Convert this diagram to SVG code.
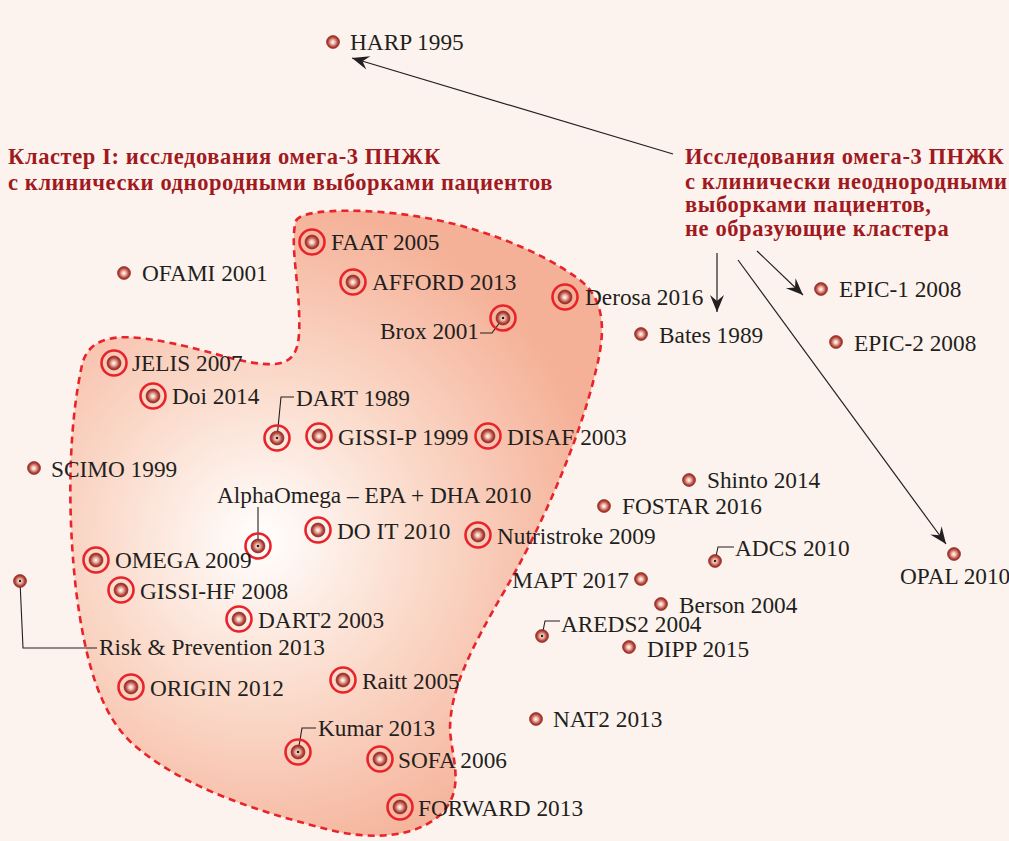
<svg xmlns="http://www.w3.org/2000/svg" width="1009" height="841" viewBox="0 0 1009 841">
<defs>
<radialGradient id="blobG" gradientUnits="userSpaceOnUse" cx="260" cy="540" r="340">
<stop offset="0" stop-color="#ffffff"/>
<stop offset="0.45" stop-color="#fbdccd"/>
<stop offset="1" stop-color="#f5b198"/>
</radialGradient>
<radialGradient id="dotG" cx="50%" cy="50%" r="50%" fx="48%" fy="52%">
<stop offset="0" stop-color="#ffffff"/>
<stop offset="0.3" stop-color="#f0c2b6"/>
<stop offset="0.75" stop-color="#b54538"/>
<stop offset="1" stop-color="#8e2620"/>
</radialGradient>
<marker id="arr" viewBox="-18 -8 20 16" refX="0" refY="0" markerWidth="20" markerHeight="16" markerUnits="userSpaceOnUse" orient="auto">
<path d="M0,0 L-17,-7 L-11,0 L-17,7 Z" fill="#231f20"/>
</marker>
<style>
.t{font-family:"Liberation Serif","Times New Roman",serif;font-size:23.3px;fill:#231f20}
.h{font-family:"Liberation Serif","Times New Roman",serif;font-size:22.5px;font-weight:bold;fill:#a0191e;letter-spacing:0.6px}
.d{fill:url(#dotG);stroke:#8a2520;stroke-width:0.6}
.r{fill:none;stroke:#e8232a;stroke-width:2.6}
.ln{fill:none;stroke:#231f20;stroke-width:1.1}
.ar{fill:none;stroke:#231f20;stroke-width:1.2}
.c{fill:#231f20}
</style>
</defs>
<rect width="1009" height="841" fill="#fdf3ee"/>
<g id="cluster">
<path d="M296,221 C300,210 350,208 400,214 C470,222 540,250 580,280 C605,300 606,330 596,370 C580,440 540,530 505,590 C470,650 450,690 450,730 C452,760 466,790 440,815 C415,838 370,840 330,830 C260,812 190,790 140,750 C100,720 85,660 76,590 C66,500 70,420 82,365 C88,340 110,335 140,338 C200,345 240,366 275,364 C300,362 300,340 299,310 C298,280 290,240 296,221 Z" fill="url(#blobG)" stroke="#e8232a" stroke-width="2.6" stroke-dasharray="7,5"/>
</g>
<g id="titles">
<text class="h" x="8" y="164">Кластер I: исследования омега-3 ПНЖК</text>
<text class="h" x="8" y="190">с клинически однородными выборками пациентов</text>
<text class="h" x="685" y="164">Исследования омега-3 ПНЖК</text>
<text class="h" x="685" y="189">с клинически неоднородными</text>
<text class="h" x="685" y="212">выборками пациентов,</text>
<text class="h" x="685" y="236">не образующие кластера</text>
</g>
<g id="connectors">
<line class="ar" x1="673" y1="154" x2="352" y2="58" marker-end="url(#arr)"/>
<line class="ar" x1="717" y1="253" x2="717" y2="312" marker-end="url(#arr)"/>
<line class="ar" x1="757" y1="251" x2="803" y2="295" marker-end="url(#arr)"/>
<line class="ar" x1="738" y1="260" x2="946" y2="544" marker-end="url(#arr)"/>
<polyline class="ln" points="480,333 492,333 503,318"/>
<polyline class="ln" points="277,438 281,397 294,397"/>
<polyline class="ln" points="258,546 258,507"/>
<polyline class="ln" points="715,561 718,547 734,547"/>
<polyline class="ln" points="542,636 545,621 560,621"/>
<polyline class="ln" points="20,581 23,648 97,648"/>
<polyline class="ln" points="298,752 302,728 316,728"/>
</g>
<g id="n-harp"><circle class="d" cx="333" cy="42" r="6.5"/><text class="t" x="350" y="50">HARP 1995</text></g>
<g id="n-ofami"><circle class="d" cx="124" cy="273" r="6.5"/><text class="t" x="142" y="281">OFAMI 2001</text></g>
<g id="n-faat"><circle class="r" cx="312" cy="242" r="12.5"/><circle class="d" cx="312" cy="242" r="7"/><text class="t" x="331" y="250">FAAT 2005</text></g>
<g id="n-afford"><circle class="r" cx="353" cy="282" r="12.5"/><circle class="d" cx="353" cy="282" r="7"/><text class="t" x="372" y="290">AFFORD 2013</text></g>
<g id="n-derosa"><circle class="r" cx="565" cy="297" r="12.5"/><circle class="d" cx="565" cy="297" r="7"/><text class="t" x="585" y="305">Derosa 2016</text></g>
<g id="n-brox"><circle class="r" cx="503" cy="318" r="12.5"/><circle class="d" cx="503" cy="318" r="7"/><circle class="c" cx="503" cy="318" r="1.3"/><text class="t" x="479" y="339" text-anchor="end">Brox 2001</text></g>
<g id="n-bates"><circle class="d" cx="641" cy="334" r="6.5"/><text class="t" x="659" y="343">Bates 1989</text></g>
<g id="n-epic1"><circle class="d" cx="821" cy="289" r="6.5"/><text class="t" x="839" y="297">EPIC-1 2008</text></g>
<g id="n-epic2"><circle class="d" cx="836" cy="342" r="6.5"/><text class="t" x="854" y="351">EPIC-2 2008</text></g>
<g id="n-jelis"><circle class="r" cx="114" cy="363" r="12.5"/><circle class="d" cx="114" cy="363" r="7"/><text class="t" x="132" y="371">JELIS 2007</text></g>
<g id="n-doi"><circle class="r" cx="153" cy="396" r="12.5"/><circle class="d" cx="153" cy="396" r="7"/><text class="t" x="172" y="404">Doi 2014</text></g>
<g id="n-dart"><circle class="r" cx="277" cy="438" r="12.5"/><circle class="d" cx="277" cy="438" r="7"/><circle class="c" cx="277" cy="438" r="1.3"/><text class="t" x="296" y="406">DART 1989</text></g>
<g id="n-gissip"><circle class="r" cx="319" cy="436" r="12.5"/><circle class="d" cx="319" cy="436" r="7"/><text class="t" x="338" y="445">GISSI-P 1999</text></g>
<g id="n-disaf"><circle class="r" cx="488" cy="436" r="12.5"/><circle class="d" cx="488" cy="436" r="7"/><text class="t" x="507" y="445">DISAF 2003</text></g>
<g id="n-scimo"><circle class="d" cx="34" cy="468" r="6.5"/><text class="t" x="51" y="477">SCIMO 1999</text></g>
<g id="n-shinto"><circle class="d" cx="689" cy="480" r="6.5"/><text class="t" x="707" y="488">Shinto 2014</text></g>
<g id="n-fostar"><circle class="d" cx="604" cy="506" r="6.5"/><text class="t" x="622" y="514">FOSTAR 2016</text></g>
<g id="n-alpha"><circle class="r" cx="258" cy="546" r="12.5"/><circle class="d" cx="258" cy="546" r="7"/><circle class="c" cx="258" cy="546" r="1.3"/><text class="t" x="217" y="503">AlphaOmega – EPA + DHA 2010</text></g>
<g id="n-doit"><circle class="r" cx="318" cy="530" r="12.5"/><circle class="d" cx="318" cy="530" r="7"/><text class="t" x="337" y="539">DO IT 2010</text></g>
<g id="n-nutri"><circle class="r" cx="478" cy="535" r="12.5"/><circle class="d" cx="478" cy="535" r="7"/><text class="t" x="497" y="544">Nutristroke 2009</text></g>
<g id="n-omega"><circle class="r" cx="96" cy="560" r="12.5"/><circle class="d" cx="96" cy="560" r="7"/><text class="t" x="115" y="568">OMEGA 2009</text></g>
<g id="n-adcs"><circle class="d" cx="715" cy="561" r="6.5"/><circle class="c" cx="715" cy="561" r="1.2"/><text class="t" x="735" y="556">ADCS 2010</text></g>
<g id="n-opal"><circle class="d" cx="954" cy="554" r="6.5"/><text class="t" x="900" y="584">OPAL 2010</text></g>
<g id="n-mapt"><circle class="d" cx="641" cy="579" r="6.5"/><text class="t" x="629" y="588" text-anchor="end">MAPT 2017</text></g>
<g id="n-gissihf"><circle class="r" cx="121" cy="590" r="12.5"/><circle class="d" cx="121" cy="590" r="7"/><text class="t" x="140" y="599">GISSI-HF 2008</text></g>
<g id="n-berson"><circle class="d" cx="661" cy="604" r="6.5"/><text class="t" x="679" y="613">Berson 2004</text></g>
<g id="n-dart2"><circle class="r" cx="239" cy="619" r="12.5"/><circle class="d" cx="239" cy="619" r="7"/><text class="t" x="258" y="628">DART2 2003</text></g>
<g id="n-areds2"><circle class="d" cx="542" cy="636" r="6.5"/><circle class="c" cx="542" cy="636" r="1.2"/><text class="t" x="561" y="632">AREDS2 2004</text></g>
<g id="n-dipp"><circle class="d" cx="629" cy="647" r="6.5"/><text class="t" x="647" y="657">DIPP 2015</text></g>
<g id="n-risk"><circle class="d" cx="20" cy="581" r="6.5"/><circle class="c" cx="20" cy="581" r="1.2"/><text class="t" x="99" y="655">Risk &amp; Prevention 2013</text></g>
<g id="n-origin"><circle class="r" cx="131" cy="687" r="12.5"/><circle class="d" cx="131" cy="687" r="7"/><text class="t" x="150" y="696">ORIGIN 2012</text></g>
<g id="n-raitt"><circle class="r" cx="343" cy="680" r="12.5"/><circle class="d" cx="343" cy="680" r="7"/><text class="t" x="362" y="689">Raitt 2005</text></g>
<g id="n-nat2"><circle class="d" cx="536" cy="719" r="6.5"/><text class="t" x="553" y="727">NAT2 2013</text></g>
<g id="n-kumar"><circle class="r" cx="298" cy="752" r="12.5"/><circle class="d" cx="298" cy="752" r="7"/><circle class="c" cx="298" cy="752" r="1.3"/><text class="t" x="318" y="736">Kumar 2013</text></g>
<g id="n-sofa"><circle class="r" cx="380" cy="759" r="12.5"/><circle class="d" cx="380" cy="759" r="7"/><text class="t" x="398" y="768">SOFA 2006</text></g>
<g id="n-forward"><circle class="r" cx="400" cy="807" r="12.5"/><circle class="d" cx="400" cy="807" r="7"/><text class="t" x="418" y="816">FORWARD 2013</text></g>
</svg>
